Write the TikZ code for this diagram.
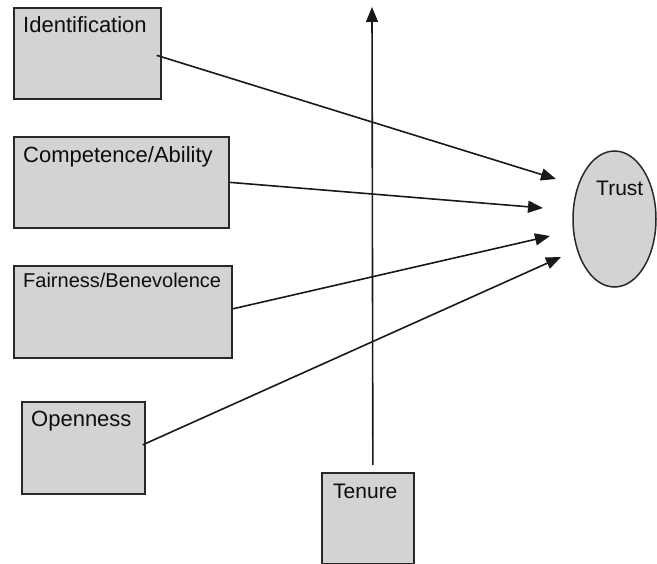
\documentclass[tikz,border=0pt]{standalone}
\usepackage{fontspec}
\setmainfont{Liberation Sans}
\usetikzlibrary{arrows.meta,shapes.geometric}
\definecolor{boxfill}{RGB}{211,211,211}
\definecolor{edgecol}{RGB}{40,40,40}
\begin{document}
\begin{tikzpicture}[x=1pt,y=-1pt,
  box/.style={draw=edgecol,line width=1.7pt,fill=boxfill,anchor=north west,inner sep=0pt},
  lbl/.style={anchor=base west,inner sep=0pt,text=black!95},
  big/.style={font=\fontsize{22}{26}\selectfont},
  mid/.style={font=\fontsize{21}{25}\selectfont},
  small/.style={font=\fontsize{20}{24}\selectfont},
  conn/.style={draw=black!90,line width=1.6pt,-{Triangle[length=15pt,width=12pt]}}]
\useasboundingbox (0,0) rectangle (657,564);
% boxes
\node[box,minimum width=147pt,minimum height=91pt] (ident) at (13,7) {};
\node[box,minimum width=215pt,minimum height=91pt] (comp) at (13,136) {};
\node[box,minimum width=218pt,minimum height=92pt] (fair) at (13,265) {};
\node[box,minimum width=123pt,minimum height=92pt] (open) at (21,401) {};
\node[box,minimum width=92pt,minimum height=91pt] (tenure) at (321,472) {};
\node[draw=edgecol,line width=1.5pt,fill=boxfill,ellipse,inner sep=0pt,
      minimum width=83pt,minimum height=136pt] (trust) at (614.5,219) {};
% texts
\node[lbl,big] (identtxt) at (23,33) {Identification};
\node[lbl,big] (comptxt) at (23,163) {Competence/Ability};
\node[lbl,small] (fairtxt) at (23,288) {Fairness/Benevolence};
\node[lbl,big] (opentxt) at (31,427) {Openness};
\node[lbl,mid] (tenuretxt) at (333,499) {Tenure};
\node[lbl,mid] (trusttxt) at (596,196) {Trust};
% arrow ends
\coordinate (t1) at (556,179);
\coordinate (t2) at (543,208);
\coordinate (t3) at (550,236);
\coordinate (t4) at (561,257);
\coordinate (top) at (372,7);
% connectors
\draw[conn] ([xshift=-5pt,yshift=-2pt]ident.east) -- (t1);
\draw[conn] (comp.east) -- (t2);
\draw[conn] ([yshift=3pt]fair.east) -- (t3);
\draw[conn] ([xshift=-3pt,yshift=3pt]open.east) -- (t4);
\draw[conn] ([xshift=5pt,yshift=7pt]tenure.north) -- (top);
\end{tikzpicture}
\end{document}
